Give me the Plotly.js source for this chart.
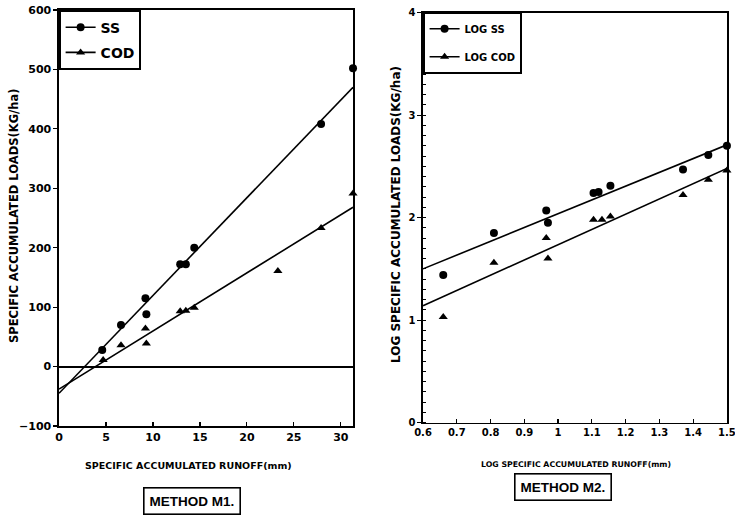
<!DOCTYPE html>
<html><head><meta charset="utf-8">
<script src="https://cdn.plot.ly/plotly-3.0.1.min.js"></script>
<style>html,body{margin:0;padding:0;background:#fff}</style>
</head><body><div id="chart" style="width:735px;height:525px"></div>
<script>
// Method M1 (linear)
const ssRunoff = [4.6, 6.6, 9.2, 9.3, 12.9, 13.5, 14.4, 27.9, 31.3];
const ssLoad = [28, 70, 115, 88, 172, 172, 200, 408, 502];
const codRunoff = [4.7, 6.6, 9.2, 9.3, 12.9, 13.5, 14.4, 23.3, 27.9, 31.3];
const codLoad = [11, 36, 64, 39, 93, 94, 99, 161, 233, 291];
const ssFitX = [0, 31.3], ssFitY = [-45, 470];
const codFitX = [0, 31.3], codFitY = [-38, 268];
const m1XTicks = [0, 5, 10, 15, 20, 25, 30];

// Method M2 (log-log)
const logRunoffSS = [0.66, 0.81, 0.965, 0.97, 1.105, 1.12, 1.155, 1.37, 1.445, 1.5];
const logSS = [1.44, 1.85, 2.07, 1.95, 2.24, 2.25, 2.31, 2.47, 2.61, 2.70];
const logRunoffCOD = [0.66, 0.81, 0.965, 0.97, 1.105, 1.13, 1.155, 1.37, 1.445, 1.5];
const logCOD = [1.03, 1.56, 1.80, 1.60, 1.98, 1.98, 2.01, 2.22, 2.37, 2.46];
const logSSFitX = [0.6, 1.5], logSSFitY = [1.50, 2.71];
const logCODFitX = [0.6, 1.5], logCODFitY = [1.14, 2.48];
const m2XTicks = [0.6, 0.7, 0.8, 0.9, 1, 1.1, 1.2, 1.3, 1.4, 1.5];
const m2XTickText = ['0.6', '0.7', '0.8', '0.9', '1', '1.1', '1.2', '1.3', '1.4', '1.5'];

// separate points with gaps so that each point is drawn alone, while the legend shows line + marker
const gapped = (arr) => arr.flatMap((v, i) => i < arr.length - 1 ? [v, null] : [v]);

const FONT = 'DejaVu Sans, Liberation Sans, Arial, sans-serif';
const bold = (s, fam) => ({family: fam || FONT, size: s, color: '#000', weight: 'bold'});
const mk = (sym) => ({symbol: sym, size: 8, color: '#000'});
const ln = {color: '#000', width: 1.6};

const traces = [
  {x: ssFitX, y: ssFitY, mode: 'lines', line: ln, xaxis: 'x', yaxis: 'y', showlegend: false, hoverinfo: 'skip'},
  {x: codFitX, y: codFitY, mode: 'lines', line: ln, xaxis: 'x', yaxis: 'y', showlegend: false, hoverinfo: 'skip'},
  {x: gapped(ssRunoff), y: gapped(ssLoad), mode: 'lines+markers', connectgaps: false, name: 'SS', marker: mk('circle'), line: ln,
    xaxis: 'x', yaxis: 'y', legend: 'legend', legendgroup: 'a', cliponaxis: false},
  {x: gapped(codRunoff), y: gapped(codLoad), mode: 'lines+markers', connectgaps: false, name: 'COD', marker: mk('triangle-up'), line: ln,
    xaxis: 'x', yaxis: 'y', legend: 'legend', legendgroup: 'b', cliponaxis: false},
  {x: logSSFitX, y: logSSFitY, mode: 'lines', line: ln, xaxis: 'x2', yaxis: 'y2', showlegend: false, hoverinfo: 'skip'},
  {x: logCODFitX, y: logCODFitY, mode: 'lines', line: ln, xaxis: 'x2', yaxis: 'y2', showlegend: false, hoverinfo: 'skip'},
  {x: gapped(logRunoffSS), y: gapped(logSS), mode: 'lines+markers', connectgaps: false, name: 'LOG SS', marker: mk('circle'), line: ln,
    xaxis: 'x2', yaxis: 'y2', legend: 'legend2', legendgroup: 'c', cliponaxis: false},
  {x: gapped(logRunoffCOD), y: gapped(logCOD), mode: 'lines+markers', connectgaps: false, name: 'LOG COD', marker: mk('triangle-up'), line: ln,
    xaxis: 'x2', yaxis: 'y2', legend: 'legend2', legendgroup: 'd', cliponaxis: false}
];

const axBase = {showline: true, linecolor: '#000', linewidth: 1.6, mirror: true, showgrid: false, zeroline: false,
  tickcolor: '#000', tickwidth: 1.2, tickfont: bold(11), fixedrange: true, ticklabeloverflow: 'allow'};

const layout = {
  width: 735, height: 525,
  margin: {l: 0, r: 0, t: 0, b: 0},
  paper_bgcolor: '#fff', plot_bgcolor: '#fff',
  xaxis: Object.assign({}, axBase, {domain: [0.0803, 0.4803], range: [0, 31.3], tickvals: m1XTicks,
    ticks: 'inside', ticklen: 4, anchor: 'y'}),
  yaxis: Object.assign({}, axBase, {domain: [0.1886, 0.981], range: [-100, 600], dtick: 100,
    ticks: 'outside', ticklen: 4, anchor: 'x', zeroline: true, zerolinecolor: '#000', zerolinewidth: 2}),
  xaxis2: Object.assign({}, axBase, {domain: [0.5755, 0.989], range: [0.6, 1.5], tickvals: m2XTicks, ticktext: m2XTickText,
    ticks: 'inside', ticklen: 4, anchor: 'y2', tickfont: bold(10)}),
  yaxis2: Object.assign({}, axBase, {domain: [0.195, 0.976], range: [0, 4], dtick: 1,
    ticks: 'outside', ticklen: 4, anchor: 'x2', tickfont: bold(10),
    minor: {dtick: 0.1, ticks: 'inside', ticklen: 3, tickcolor: '#000', tickwidth: 1}}),
  legend: {x: 0.0803, y: 0.981, xanchor: 'left', yanchor: 'top', bgcolor: '#fff', bordercolor: '#000', borderwidth: 1.6,
    font: bold(14), itemwidth: 30, tracegroupgap: 4},
  legend2: {x: 0.5755, y: 0.976, xanchor: 'left', yanchor: 'top', bgcolor: '#fff', bordercolor: '#000', borderwidth: 1.6,
    font: bold(10), itemwidth: 30, tracegroupgap: 9},
  annotations: [
    {text: 'SPECIFIC ACCUMULATED LOADS(KG/ha)', xref: 'paper', yref: 'paper', x: 14/735, y: 1 - 216/525,
      textangle: -90, showarrow: false, font: bold(11.5), xanchor: 'center', yanchor: 'middle'},
    {text: 'SPECIFIC ACCUMULATED RUNOFF(mm)', xref: 'paper', yref: 'paper', x: 188/735, y: 1 - 465/525,
      showarrow: false, font: bold(9.5), xanchor: 'center', yanchor: 'middle'},
    {text: 'LOG SPECIFIC ACCUMULATED LOADS(KG/ha)', xref: 'paper', yref: 'paper', x: 396/735, y: 1 - 215/525,
      textangle: -90, showarrow: false, font: bold(12), xanchor: 'center', yanchor: 'middle'},
    {text: 'LOG SPECIFIC ACCUMULATED RUNOFF(mm)', xref: 'paper', yref: 'paper', x: 576/735, y: 1 - 464/525,
      showarrow: false, font: bold(7.8), xanchor: 'center', yanchor: 'middle'},
    {text: 'METHOD M1.', xref: 'paper', yref: 'paper', x: 192/735, y: 1 - 501/525,
      showarrow: false, font: bold(13.5, 'Liberation Sans Narrow, Liberation Sans, Arial, sans-serif'), xanchor: 'center', yanchor: 'middle',
      bordercolor: '#000', borderwidth: 1.6, borderpad: 5},
    {text: 'METHOD M2.', xref: 'paper', yref: 'paper', x: 563/735, y: 1 - 487/525,
      showarrow: false, font: bold(13.5, 'Liberation Sans Narrow, Liberation Sans, Arial, sans-serif'), xanchor: 'center', yanchor: 'middle',
      bordercolor: '#000', borderwidth: 1.6, borderpad: 5}
  ]
};

Plotly.newPlot('chart', traces, layout, {displayModeBar: false, staticPlot: true});
</script>
</body></html>
